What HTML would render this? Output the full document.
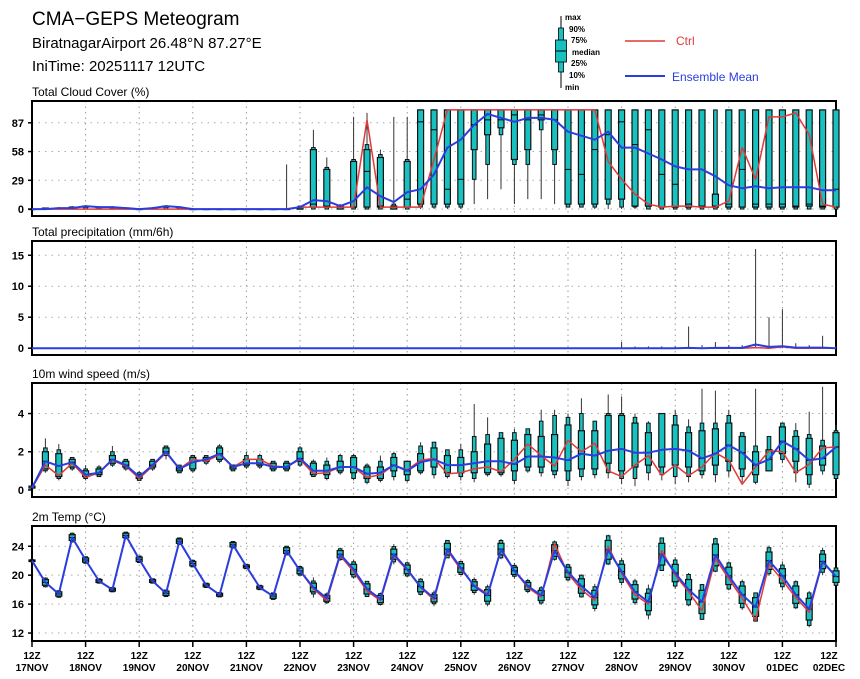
<!DOCTYPE html>
<html><head><meta charset="utf-8"><style>
html,body{margin:0;padding:0;background:#fff;}
svg{display:block;font-family:"Liberation Sans",sans-serif;}
</style></head><body>
<svg id="c" width="860" height="679" viewBox="0 0 860 679">
<text x="32" y="25" font-size="19">CMA−GEPS Meteogram</text>
<text x="32" y="48" font-size="15">BiratnagarAirport 26.48°N 87.27°E</text>
<text x="32" y="71" font-size="15">IniTime: 20251117 12UTC</text>
<g font-size="8" font-weight="bold">
<line x1="561" y1="16" x2="561" y2="88" stroke="#000"/>
<rect x="558.5" y="28" width="5" height="44" fill="#18c0c0" stroke="#000" stroke-width="0.8"/>
<rect x="555.5" y="40" width="11" height="22" fill="#18c0c0" stroke="#000" stroke-width="0.8"/>
<line x1="555.5" y1="51" x2="566.5" y2="51" stroke="#000"/>
<text x="565" y="20">max</text><text x="569" y="32">90%</text><text x="571" y="43">75%</text>
<text x="572" y="55">median</text><text x="571" y="66">25%</text><text x="569" y="78">10%</text><text x="565" y="90">min</text>
</g>
<g><line x1="625" y1="41" x2="665" y2="41" stroke="#e03a3a" stroke-width="1.5"/><text x="676" y="45" font-size="12" fill="#e03a3a">Ctrl</text></g>
<g><line x1="625" y1="76" x2="665" y2="76" stroke="#2a3ee0" stroke-width="2"/><text x="672" y="81" font-size="12" fill="#2a3ee0">Ensemble Mean</text></g>
</svg>
<script>
const days=["17NOV","18NOV","19NOV","20NOV","21NOV","22NOV","23NOV","24NOV","25NOV","26NOV","27NOV","28NOV","29NOV","30NOV","01DEC","02DEC"];
const cloudMean=[0,0,1,1,3,2,2,1,0,1,3,2,0,0,0,0,0,0,0,0,2,9,8,3,8,22,13,7,17,20,35,62,70,85,96,92,88,92,92,90,78,74,70,78,62,62,56,50,43,40,40,33,24,21,23,21,22,22,22,19,19];
const cloudCtrl=[0,0,0,0,0,0,0,0,0,0,0,0,0,0,0,0,0,0,0,0,2,2,2,2,2,90,2,2,2,2,50,100,100,100,100,100,100,100,100,100,100,100,100,48,30,15,5,2,3,3,2,2,8,62,30,93,93,97,75,5,2];
const cloudMin=[0,0,0,0,0,0,0,0,0,0,0,0,0,0,0,0,0,0,0,0,0,0,0,0,0,0,0,0,0,0,0,0,0,5,10,20,5,10,10,5,2,2,0,0,0,0,0,0,0,0,0,0,0,0,0,0,0,0,0,0,0];
const cloudP10=[0,0,0,0,0,0,0,0,0,0,0,0,0,0,0,0,0,0,0,0,0,0,0,0,0,0,0,0,0,2,2,2,2,30,45,75,45,45,80,45,2,2,2,5,2,2,0,0,0,0,0,0,0,0,0,0,0,0,0,0,0];
const cloudQ1=[0,0,1,1,2,2,2,1,0,1,2,2,0,0,0,0,0,0,0,0,0,2,2,0,2,2,2,0,2,5,5,5,5,60,75,82,50,60,90,60,5,5,5,10,10,3,3,2,2,2,2,2,2,2,2,2,2,2,3,2,2];
const cloudMed=[0,0,1,1,3,2,2,1,0,1,3,2,0,0,0,0,0,0,0,0,0,5,3,2,2,38,3,2,10,88,80,20,30,85,90,90,95,90,95,90,40,35,60,75,88,65,80,35,25,5,3,3,5,40,5,5,5,3,5,3,20];
const cloudQ3=[0,1,1,2,3,2,2,1,0,1,3,2,0,0,0,0,0,0,0,0,2,60,40,3,48,60,52,3,48,100,100,100,100,100,100,100,100,100,100,100,100,100,100,100,100,100,100,100,100,100,100,15,100,100,100,100,100,100,100,100,100];
const cloudP90=[0,1,1,2,3,2,2,1,0,1,3,2,0,0,0,0,0,0,0,0,3,62,42,4,50,65,55,5,50,100,100,100,100,100,100,100,100,100,100,100,100,100,100,100,100,100,100,100,100,100,100,100,100,100,100,100,100,100,100,100,100];
const cloudMax=[0,1,2,3,4,3,3,2,1,2,4,3,1,0,0,0,0,0,0,45,3,80,52,5,93,97,60,93,93,100,100,100,100,100,100,100,100,100,100,100,100,100,100,100,100,100,100,100,100,100,100,100,100,100,100,100,100,100,100,100,100];
const precipMax=[0,0,0,0,0,0,0,0,0,0,0,0,0,0,0,0,0,0,0,0,0,0,0,0,0,0,0,0,0,0,0,0,0,0,0,0,0,0,0,0,0,0,0,0,1,0.3,0.3,0.3,0.3,3.5,0.5,1,0.5,0.5,16,5,6.3,0.8,0.5,2,0.3];
const precipMean=[0,0,0,0,0,0,0,0,0,0,0,0,0,0,0,0,0,0,0,0,0,0,0,0,0,0,0,0,0,0,0,0,0,0,0,0,0,0,0,0,0,0,0,0,0,0,0,0,0,0.05,0,0.05,0.05,0.05,0.6,0.2,0.3,0.1,0.1,0.1,0];
const precipCtrl=[0,0,0,0,0,0,0,0,0,0,0,0,0,0,0,0,0,0,0,0,0,0,0,0,0,0,0,0,0,0,0,0,0,0,0,0,0,0,0,0,0,0,0,0,0,0,0,0,0,0,0,0,0,0,0.1,0,0.2,0,0,0,0];
const windMean=[0.1,1.5,1.25,1.45,0.8,0.9,1.6,1.3,0.7,1.3,2.0,1.1,1.45,1.6,1.9,1.2,1.4,1.4,1.2,1.2,1.65,1.0,1.0,1.2,1.2,0.85,0.9,1.3,1.0,1.45,1.6,1.3,1.3,1.4,1.5,1.5,1.35,1.75,1.75,1.7,1.55,1.9,1.8,2.05,2.15,1.95,1.95,2.1,2.15,2.05,1.65,1.9,2.35,1.95,1.3,1.6,2.55,2.15,1.55,1.65,2.25];
const windCtrl=[0.1,1.3,0.75,1.4,0.65,0.9,1.55,1.25,0.6,1.25,1.95,1.1,1.6,1.5,1.85,1.2,1.6,1.6,1.25,1.2,1.6,0.85,0.9,1.2,1.2,0.65,0.8,1.3,1.05,1.55,1.65,0.85,0.9,1.1,1.2,0.95,1.6,2.4,1.8,1.25,2.6,2.0,2.45,1.0,0.7,1.3,1.8,0.75,1.3,0.75,1.2,1.95,1.55,0.3,1.2,2.05,2.0,0.9,1.35,2.2,2.25];
const windMin=[0.1,0.9,0.5,1.0,0.5,0.7,1.2,1.0,0.5,1.0,1.6,0.9,0.9,1.3,1.4,1.0,1.1,1.1,1.0,1.0,1.2,0.7,0.5,0.8,0.5,0.3,0.4,0.5,0.4,0.8,0.6,0.6,0.5,0.4,0.7,0.7,0.3,0.9,0.7,0.6,0.2,0.5,0.6,0.6,0.3,0.2,0.5,0.5,0.3,0.4,0.6,0.4,0.7,0.4,0.3,1.1,1.4,0.4,0.1,0.8,0.5];
const windP10=[0.1,1.0,0.6,1.1,0.6,0.7,1.3,1.1,0.5,1.1,1.8,0.9,1.0,1.4,1.5,1.0,1.2,1.2,1.0,1.0,1.3,0.7,0.6,0.9,0.6,0.4,0.5,0.7,0.5,0.9,0.8,0.7,0.7,0.6,0.8,0.8,0.5,1.0,0.9,0.8,0.5,0.7,0.8,0.9,0.6,0.6,0.9,0.8,0.7,0.7,0.8,0.8,1.0,0.7,0.4,1.2,1.6,0.9,0.3,1.0,0.6];
const windQ1=[0.1,1.1,0.7,1.2,0.7,0.8,1.4,1.2,0.6,1.2,1.9,1.0,1.1,1.5,1.6,1.1,1.3,1.3,1.1,1.1,1.5,0.8,0.8,1.0,0.9,0.6,0.6,1.0,0.8,1.0,1.2,0.9,0.9,0.9,0.9,0.9,1.0,1.2,1.2,1.0,1.0,1.1,1.1,1.4,1.0,1.2,1.3,1.2,1.3,1.2,1.0,1.3,1.5,1.1,0.8,1.0,1.9,1.5,0.8,1.3,0.8];
const windQ3=[0.2,2.0,1.9,1.6,1.0,1.1,1.8,1.5,0.8,1.5,2.2,1.2,1.7,1.7,2.2,1.3,1.6,1.6,1.4,1.4,2.0,1.4,1.3,1.5,1.7,1.2,1.2,1.7,1.5,1.9,2.2,1.8,1.7,2.0,2.4,2.7,2.6,2.9,2.8,2.9,3.4,3.1,3.1,3.9,3.9,3.5,3.0,4.0,3.4,3.0,3.1,3.2,3.5,2.8,2.0,2.1,3.3,2.8,2.7,2.3,3.0];
const windP90=[0.2,2.2,2.1,1.7,1.1,1.2,2.0,1.6,0.9,1.6,2.3,1.3,1.8,1.8,2.3,1.3,1.8,1.8,1.5,1.5,2.2,1.5,1.5,1.8,1.8,1.3,1.5,1.9,1.4,2.3,2.5,2.1,2.1,2.8,2.9,3.0,3.0,3.2,3.6,3.9,3.8,4.0,3.6,4.0,4.0,3.8,3.5,3.9,3.9,3.3,3.5,3.5,3.9,3.0,2.3,2.8,3.5,3.1,2.9,2.6,3.1];
const windMax=[0.2,2.7,2.4,1.7,1.3,1.3,2.3,1.6,1.0,1.6,2.3,1.3,1.8,1.8,2.4,1.3,2.0,1.9,1.5,1.5,2.3,1.6,1.7,1.9,1.9,1.4,1.8,2.0,1.4,2.5,2.2,1.9,2.4,4.5,3.8,2.9,3.2,3.0,4.2,4.2,4.0,4.8,3.5,5.0,4.9,4.0,3.6,3.4,4.2,3.7,5.3,5.2,4.2,3.0,5.3,2.8,2.4,3.5,4.1,5.4,3.4];
const tempMean=[22,19,17.4,25.2,22.1,19.2,18,25.5,22.2,19.2,17.5,24.7,21.6,18.6,17.3,24.2,21.2,18.3,17.1,23.4,20.6,18.3,16.8,22.9,20.8,18.1,16.7,22.9,20.8,18.4,16.8,23.6,21,18.5,17.2,23.6,20.6,18.5,17.2,23.4,20.4,18.5,16.9,23.5,20.5,17.7,16.3,22.9,20.3,18,16.3,22.8,19.9,17.3,15.6,22,19.9,17.3,15.3,21.9,19.8];
const tempCtrl=[22,19,17.4,25.2,22.1,19.2,18,25.5,22.2,19.2,17.5,24.7,21.6,18.6,17.3,24.2,21.2,18.3,17.1,23.4,20.6,18.1,16.5,22.7,20.5,17.8,16.5,22.7,20.7,18.3,16.6,23.4,20.8,18.6,17.4,23.4,20.6,18.3,17.0,24.3,20.2,18.0,16.5,24.0,20.2,17.3,16.0,23.4,20.0,17.7,15.1,22.3,19.5,16.8,13.8,21.5,19.3,16.9,14.9,21.8,19.8];
const tempBoxHalf=[0.1,0.4,0.3,0.4,0.3,0.2,0.2,0.3,0.3,0.2,0.3,0.3,0.3,0.2,0.2,0.3,0.2,0.2,0.3,0.4,0.4,0.6,0.4,0.5,0.7,0.7,0.5,0.7,0.6,0.7,0.5,0.8,0.6,0.6,0.8,0.8,0.5,0.5,0.7,0.8,0.7,1.0,1.0,1.3,1.0,1.0,1.2,1.5,1.2,1.4,1.6,1.5,1.2,1.2,1.3,1.2,1.0,1.2,1.5,1.0,0.8];
const tempWhiskHalf=[0.1,0.7,0.5,0.7,0.5,0.3,0.3,0.5,0.4,0.3,0.4,0.5,0.4,0.3,0.3,0.5,0.3,0.3,0.4,0.6,0.6,1.4,0.8,0.9,1.3,1.0,0.9,1.4,1.1,1.2,1.1,1.2,1.0,1.2,1.5,1.4,1.1,1.0,1.3,1.4,1.2,1.6,1.9,2.1,1.9,1.8,2.4,2.3,2.2,2.3,2.5,2.4,2.0,2.1,2.0,2.1,2.0,2.0,2.5,1.9,1.2];

const NS="http://www.w3.org/2000/svg";
const svg=document.getElementById('c');
const X0=32,X1=836,N=60;
function xs(i){return X0+(X1-X0)*i/N;}
function mk(tag,attrs,parent){const e=document.createElementNS(NS,tag);for(const k in attrs)e.setAttribute(k,attrs[k]);(parent||svg).appendChild(e);return e;}
function panel(name,title,top,bot,vmin,vmax,ticks,tickLabels){
  const g=mk('g',{});
  
  
  const t=mk('text',{x:X0,y:top-5,'font-size':12},g);t.textContent=title;
  
  
  const y=v=>bot-(v-vmin)/(vmax-vmin)*(bot-top);
  for(let d=1;d<15;d++){const l=mk('line',{x1:xs(d*4),x2:xs(d*4),y1:top,y2:bot,stroke:'#999','stroke-dasharray':'1.5,4','stroke-width':1},g);
    
    }
  ticks.forEach((v,k)=>{const yy=y(v);
    const l=mk('line',{x1:X0,x2:X1,y1:yy,y2:yy,stroke:'#aaa','stroke-dasharray':'1.5,5'},g);
    
    
    mk('line',{x1:X0-4,x2:X0,y1:yy,y2:yy,stroke:'#000','stroke-width':1.5},g);
    const tl=mk('text',{x:X0-8,y:yy+4,'font-size':11,'font-weight':'bold','text-anchor':'end'},g);tl.textContent=tickLabels[k];
    
    });
  const fr=mk('rect',{x:X0,y:top,width:X1-X0,height:bot-top,fill:'none',stroke:'#000','stroke-width':2},g);
  
  
  return {g,y};
}
function boxes(p,name,mn,p10,q1,med,q3,p90,mx){
  for(let i=0;i<=N;i++){
    const x=xs(i),bg=mk('g',{},p.g);
    
    
    mk('line',{x1:x,x2:x,y1:p.y(mn[i]),y2:p.y(mx[i]),stroke:'#333','stroke-width':1},bg);
    mk('rect',{x:x-1.8,y:p.y(p90[i]),width:3.6,height:Math.max(0.5,p.y(p10[i])-p.y(p90[i])),fill:'#18c0c0',stroke:'#111','stroke-width':1},bg);
    mk('rect',{x:x-3,y:p.y(q3[i]),width:6,height:Math.max(0.5,p.y(q1[i])-p.y(q3[i])),fill:'#18c0c0',stroke:'#111','stroke-width':1.2},bg);
    mk('line',{x1:x-3,x2:x+3,y1:p.y(med[i]),y2:p.y(med[i]),stroke:'#000','stroke-width':1},bg);
  }
}
function line(p,name,vals,color,w){
  const pts=vals.map((v,i)=>xs(i).toFixed(1)+','+p.y(v).toFixed(1)).join(' ');
  const l=mk('polyline',{points:pts,fill:'none',stroke:color,'stroke-width':w,'stroke-linejoin':'round'},p.g);
  
  
}
const p1=panel('cloud-cover','Total Cloud Cover (%)',101,216,-7,109,[0,29,58,87],['0','29','58','87']);
boxes(p1,'cloud',cloudMin,cloudP10,cloudQ1,cloudMed,cloudQ3,cloudP90,cloudMax);
line(p1,'cloud-ctrl-line',cloudCtrl,'#e03a3a',1.5);
line(p1,'cloud-mean-line',cloudMean,'#2a3ee0',2);
const p2=panel('precipitation','Total precipitation (mm/6h)',241,355,-1.1,17.3,[0,5,10,15],['0','5','10','15']);
for(let i=0;i<=N;i++){if(precipMax[i]>0){const l=mk('line',{x1:xs(i),x2:xs(i),y1:p2.y(0),y2:p2.y(precipMax[i]),stroke:'#333','stroke-width':1},p2.g);
  
  }}
line(p2,'precip-ctrl-line',precipCtrl,'#e03a3a',1.5);
line(p2,'precip-mean-line',precipMean,'#2a3ee0',2);
const p3=panel('wind-speed','10m wind speed (m/s)',383,497,-0.37,5.6,[0,2,4],['0','2','4']);
boxes(p3,'wind',windMin,windP10,windQ1,windMean,windQ3,windP90,windMax);
line(p3,'wind-ctrl-line',windCtrl,'#e03a3a',1.5);
line(p3,'wind-mean-line',windMean,'#2a3ee0',2);
const p4=panel('temperature','2m Temp (°C)',526,641,10.9,26.8,[12,16,20,24],['12','16','20','24']);
const tMin=tempMean.map((v,i)=>v-tempWhiskHalf[i]),tMax=tempMean.map((v,i)=>v+tempWhiskHalf[i]);
const tQ1=tempMean.map((v,i)=>v-tempBoxHalf[i]),tQ3=tempMean.map((v,i)=>v+tempBoxHalf[i]);
const tP10=tempMean.map((v,i)=>v-tempBoxHalf[i]*1.5),tP90=tempMean.map((v,i)=>v+tempBoxHalf[i]*1.5);
boxes(p4,'temp',tMin,tP10,tQ1,tempMean,tQ3,tP90,tMax);
line(p4,'temp-ctrl-line',tempCtrl,'#e03a3a',1.5);
line(p4,'temp-mean-line',tempMean,'#2a3ee0',2);
days.forEach((d,k)=>{const x=xs(k*4);
  mk('line',{x1:x,x2:x,y1:641,y2:647,stroke:'#000','stroke-width':1.5});
  const a=mk('text',{x:Math.min(x,829),y:659,'font-size':10,'font-weight':'bold','text-anchor':'middle'});a.textContent='12Z';
  
  
  const b=mk('text',{x:Math.min(x,829),y:671,'font-size':10,'font-weight':'bold','text-anchor':'middle'});b.textContent=d;
  
  
});
</script>
</body></html>
